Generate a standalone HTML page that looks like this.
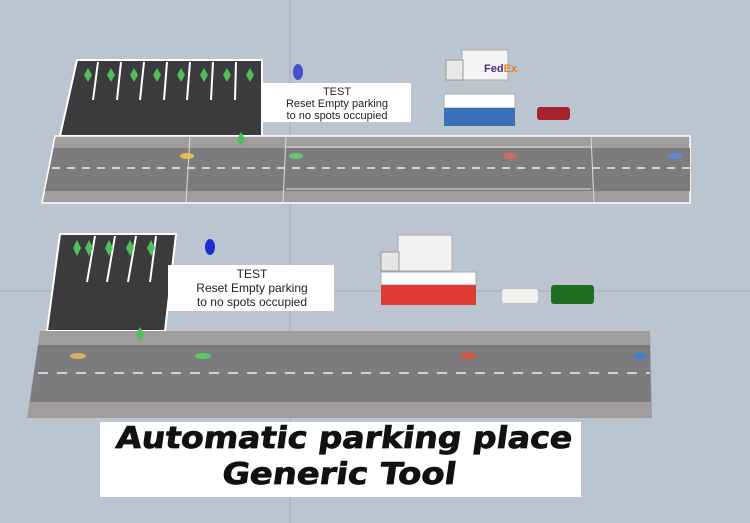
<!DOCTYPE html>
<html><head><meta charset="utf-8"><style>
html,body{margin:0;padding:0;width:750px;height:523px;overflow:hidden;background:#bac5d0}
svg{display:block}
</style></head><body>
<svg width="750" height="523" viewBox="0 0 750 523" xmlns="http://www.w3.org/2000/svg">
<rect width="750" height="523" fill="#bac5d0"/>
<line x1="290" y1="0" x2="290" y2="523" stroke="#a3adb8" stroke-width="1"/>
<line x1="0" y1="291" x2="750" y2="291" stroke="#a3adb8" stroke-width="1"/>

<!-- TOP scene -->
<polygon points="77,60 262,60 262,136 60,136" fill="#3b3b3d" stroke="#fff" stroke-width="2"/>
<g stroke="#fff" stroke-width="2">
<line x1="98" y1="62" x2="93" y2="100"/><line x1="121" y1="62" x2="117" y2="100"/><line x1="144" y1="62" x2="140" y2="100"/><line x1="167" y1="62" x2="164" y2="100"/><line x1="190" y1="62" x2="187" y2="100"/><line x1="213" y1="62" x2="211" y2="100"/><line x1="236" y1="62" x2="235" y2="100"/>
</g>
<g fill="#4fbf5a">
<polygon points="88,68 92,75 88,82 84,75"/><polygon points="111,68 115,75 111,82 107,75"/><polygon points="134,68 138,75 134,82 130,75"/><polygon points="157,68 161,75 157,82 153,75"/><polygon points="181,68 185,75 181,82 177,75"/><polygon points="204,68 208,75 204,82 200,75"/><polygon points="227,68 231,75 227,82 223,75"/><polygon points="250,68 254,75 250,82 246,75"/>
</g>
<ellipse cx="298" cy="72" rx="5" ry="8" fill="#4450c8"/>
<!-- road top -->
<polygon points="55,136 690,136 690,203 42,203" fill="#a19d9c" stroke="#fff" stroke-width="1.5"/>
<polygon points="54,148 690,148 690,191 45,191" fill="#7c7c7e"/>
<line x1="52" y1="168" x2="690" y2="168" stroke="#eee" stroke-width="1.5" stroke-dasharray="8,7"/>
<line x1="190" y1="136" x2="186" y2="203" stroke="#ddd"/><line x1="286" y1="136" x2="283" y2="203" stroke="#ddd"/><line x1="591" y1="136" x2="594" y2="203" stroke="#ddd"/>
<line x1="286" y1="147" x2="591" y2="147" stroke="#ddd"/><line x1="286" y1="189" x2="591" y2="189" stroke="#ddd"/>
<polygon points="241,132 245,139 241,146 237,139" fill="#4fbf5a"/>
<ellipse cx="187" cy="156" rx="7" ry="3" fill="#e0c050"/>
<ellipse cx="296" cy="156" rx="7" ry="3" fill="#6cc57a"/>
<ellipse cx="510" cy="156" rx="7" ry="3" fill="#d9675d"/>
<ellipse cx="675" cy="156" rx="7" ry="3" fill="#5e8ad8"/>
<rect x="263" y="83" width="148" height="39" fill="#fff"/>
<g font-family="Liberation Sans, sans-serif" font-size="11" fill="#222" text-anchor="middle">
<text x="337" y="95">TEST</text><text x="337" y="107">Reset Empty parking</text><text x="337" y="119">to no spots occupied</text></g>
<!-- fedex -->
<rect x="462" y="50" width="46" height="30" fill="#f4f4f4" stroke="#aaa"/>
<rect x="446" y="60" width="17" height="20" fill="#e8e8e8" stroke="#999"/>
<text x="484" y="72" font-family="Liberation Sans, sans-serif" font-weight="bold" font-size="11" fill="#4b2a85">Fed<tspan fill="#f07b1b">Ex</tspan></text>
<!-- bus -->
<rect x="444" y="94" width="71" height="14" fill="#fff" stroke="#aaa"/>
<rect x="444" y="108" width="71" height="18" fill="#3b6fb8"/>
<rect x="537" y="107" width="33" height="13" rx="3" fill="#a5232c"/>

<!-- BOTTOM scene -->
<polygon points="60,234 176,234 165,331 47,331" fill="#3b3b3d" stroke="#fff" stroke-width="2"/>
<g stroke="#fff" stroke-width="2">
<line x1="95" y1="236" x2="87" y2="282"/><line x1="115" y1="236" x2="107" y2="282"/><line x1="136" y1="236" x2="128" y2="282"/><line x1="156" y1="236" x2="150" y2="282"/>
</g>
<g fill="#4fbf5a">
<polygon points="77,240 81,248 77,256 73,248"/><polygon points="89,240 93,248 89,256 85,248"/><polygon points="109,240 113,248 109,256 105,248"/><polygon points="130,240 134,248 130,256 126,248"/><polygon points="151,240 155,248 151,256 147,248"/>
</g>
<ellipse cx="210" cy="247" rx="5" ry="8" fill="#1b2fd0"/>
<polygon points="40,331 650,331 652,418 27,418" fill="#a19d9c"/>
<polygon points="38,345 650,345 651,402 30,402" fill="#7c7c7e"/>
<line x1="38" y1="373" x2="650" y2="373" stroke="#eee" stroke-width="1.5" stroke-dasharray="10,9"/>
<polygon points="140,327 144,334 140,342 136,334" fill="#4fbf5a"/>
<ellipse cx="78" cy="356" rx="8" ry="3" fill="#d8b060"/>
<ellipse cx="203" cy="356" rx="8" ry="3" fill="#5ec86a"/>
<ellipse cx="468" cy="356" rx="8" ry="3" fill="#e0553f"/>
<ellipse cx="640" cy="356" rx="6" ry="3" fill="#3a80d8"/>
<rect x="168" y="265" width="166" height="46" fill="#fff"/>
<g font-family="Liberation Sans, sans-serif" font-size="12" fill="#222" text-anchor="middle">
<text x="252" y="278">TEST</text><text x="252" y="292">Reset Empty parking</text><text x="252" y="306">to no spots occupied</text></g>
<rect x="398" y="235" width="54" height="36" fill="#f4f2f0" stroke="#aaa"/>
<rect x="381" y="252" width="18" height="19" fill="#e6e6e6" stroke="#999"/>
<rect x="381" y="272" width="95" height="13" fill="#fff" stroke="#aaa"/>
<rect x="381" y="285" width="95" height="20" fill="#e03a34"/>
<rect x="502" y="289" width="36" height="14" rx="3" fill="#f2f2ec"/>
<rect x="551" y="285" width="43" height="19" rx="3" fill="#1f6e24"/>

<!-- title -->
<rect x="100" y="422" width="481" height="75" fill="#fff"/>
<g font-family="DejaVu Sans, Liberation Sans, sans-serif" font-weight="bold" font-size="30" fill="#111" stroke="#111" stroke-width="0.8" text-anchor="middle" transform="translate(65,0) skewX(-8)">
<text x="341" y="448" textLength="456" lengthAdjust="spacingAndGlyphs">Automatic parking place</text><text x="341" y="484" textLength="234" lengthAdjust="spacingAndGlyphs">Generic Tool</text></g>
</svg>
</body></html>
